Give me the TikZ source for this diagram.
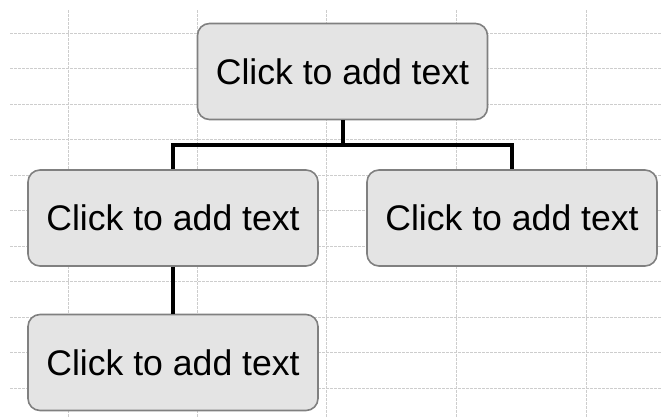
\documentclass[tikz,border=0pt]{standalone}
\usepackage{fontspec}
\setmainfont{Liberation Sans}
\usepackage{xcolor}
\usepackage{tikz}
\usetikzlibrary{positioning,calc}
\definecolor{gridgray}{RGB}{205, 205, 205}
\definecolor{boxfill}{RGB}{228, 228, 228}
\definecolor{boxedge}{RGB}{128, 128, 128}

\begin{document}
\begin{tikzpicture}[x=0.75pt,y=-0.75pt,
    orgbox/.style={draw=boxedge,line width=1.2pt,fill=boxfill,rounded corners=9pt,
      minimum width=217.5pt,minimum height=72pt,inner sep=0pt,
      font=\fontsize{26.7}{30}\selectfont},
    link/.style={line width=3pt}]
    \useasboundingbox (0,0) rectangle (661,418);
    % background grid
    \foreach \gx in {68,197,326,456,586}
      \draw[gridgray,dashed,dash pattern=on 2pt off 1pt,line width=0.6pt] (\gx,10) -- (\gx,418);
    \foreach \gy in {33,68.5,104,139.5,175,210.5,246,281.5,317,352.5,388}
      \draw[gridgray,dashed,dash pattern=on 2pt off 1pt,line width=0.6pt] (10,\gy) -- (661,\gy);

    \node[orgbox] (top) at (342.5,71.5) {Click to add text};
    \node[orgbox] (left) at (173,218) {Click to add text};
    \node[orgbox] (right) at (512,218) {Click to add text};
    \node[orgbox] (bottom) at (173,362.5) {Click to add text};

    \draw[link] (top.south) -- ++(0,25) coordinate (bus);
    \draw[link] (left.north) |- (bus) -| (right.north);
    \draw[link] (left.south) -- (bottom.north);
\end{tikzpicture}
\end{document}
